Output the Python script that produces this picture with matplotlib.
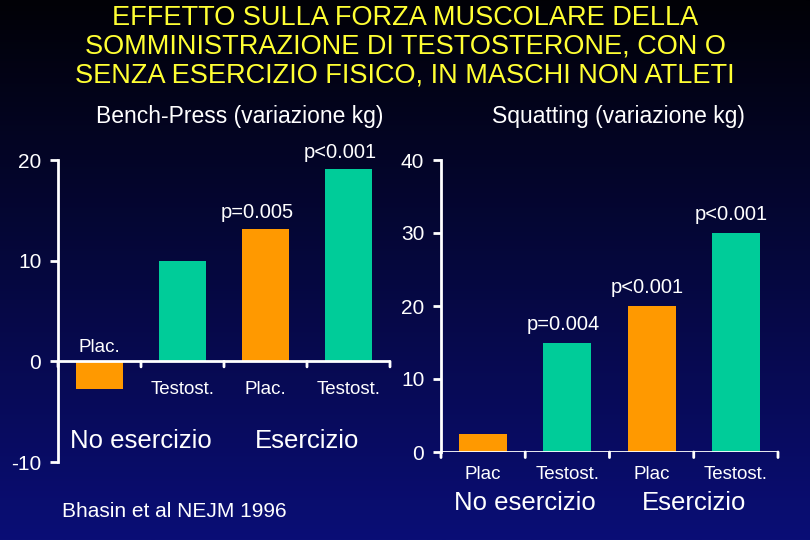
# -*- coding: utf-8 -*-
import numpy as np
import matplotlib
matplotlib.use('Agg')
import matplotlib.pyplot as plt

# data
categories = ['Plac.', 'Testost.', 'Plac.', 'Testost.']
categories_sq = ['Plac', 'Testost.', 'Plac', 'Testost.']
groups = ['No esercizio', 'Esercizio']
bench = [-2.7, 10.0, 13.1, 19.1]
squat = [2.5, 15.0, 20.0, 30.0]
bench_p = [None, None, 'p=0.005', 'p<0.001']
squat_p = [None, 'p=0.004', 'p<0.001', 'p<0.001']
colors = ['#FF9900', '#00CC99', '#FF9900', '#00CC99']

title = ('EFFETTO SULLA FORZA MUSCOLARE DELLA\n'
         'SOMMINISTRAZIONE DI TESTOSTERONE, CON O\n'
         'SENZA ESERCIZIO FISICO, IN MASCHI NON ATLETI')

plt.rcParams['font.family'] = ['Liberation Sans', 'DejaVu Sans']
plt.rcParams['axes.unicode_minus'] = False

fig = plt.figure(figsize=(8.1, 5.4), dpi=100)

# background gradient
bg = fig.add_axes([0, 0, 1, 1], zorder=-10)
grad = np.linspace(0, 1, 256).reshape(-1, 1)
top = np.array([1, 1, 6]) / 255.0
bot = np.array([10, 14, 118]) / 255.0
img = top + (bot - top) * grad[:, :, None]
bg.imshow(img, aspect='auto', extent=[0, 1, 0, 1])
bg.axis('off')

fig.text(0.5, 0.99, title, ha='center', va='top', color='#FFFF33',
         fontsize=19.5, linespacing=1.12)
fig.text(0.296, 0.785, 'Bench-Press (variazione kg)', ha='center', va='center',
         color='white', fontsize=16.5)
fig.text(0.763, 0.785, 'Squatting (variazione kg)', ha='center', va='center',
         color='white', fontsize=16.5)
fig.text(0.077, 0.052, 'Bhasin et al NEJM 1996', ha='left', va='center',
         color='white', fontsize=15)


def style(ax, ylim, yticks):
    ax.set_facecolor('none')
    ax.set_xlim(0, 4)
    ax.set_ylim(*ylim)
    ax.set_yticks(yticks)
    ax.set_xticks([])
    for s in ['top', 'right', 'bottom']:
        ax.spines[s].set_visible(False)
    ax.spines['left'].set_color('white')
    ax.spines['left'].set_linewidth(2)
    ax.tick_params(axis='y', colors='white', labelsize=15, length=6, width=2,
                   direction='out', pad=6)
    # x axis line at zero with category boundary ticks
    ax.axhline(0, color='white', lw=2, zorder=3)
    for b in range(5):
        ax.annotate('', xy=(b, 0), xytext=(0, -4), textcoords='offset points',
                    arrowprops=dict(arrowstyle='-', color='white', lw=2,
                                    shrinkA=0, shrinkB=0))


x = np.arange(4) + 0.5

# Bench press
ax1 = fig.add_axes([58 / 810, 1 - 462 / 540, 332 / 810, 302 / 540])
style(ax1, (-10, 20), [-10, 0, 10, 20])
ax1.bar(x, bench, width=0.57, color=colors, zorder=2)
for xi, v, lab, p in zip(x, bench, categories, bench_p):
    dy = 10 if v < 0 else -20
    ax1.annotate(lab, (xi, 0), xytext=(0, dy), textcoords='offset points',
                 ha='center', va='center', color='white', fontsize=13.5)
    if p:
        ax1.annotate(p, (xi, v), xytext=(-6, 12), textcoords='offset points',
                     ha='center', va='center', color='white', fontsize=14.5)
for gi, g in enumerate(groups):
    ax1.annotate(g, (2 * gi + 1, 0), xytext=(0, -57), textcoords='offset points',
                 ha='center', va='center', color='white', fontsize=18.5)

# Squatting
ax2 = fig.add_axes([441 / 810, 1 - 452 / 540, 337 / 810, 292 / 540])
style(ax2, (0, 40), [0, 10, 20, 30, 40])
ax2.bar(x, squat, width=0.57, color=colors, zorder=2)
for xi, v, lab, p in zip(x, squat, categories_sq, squat_p):
    ax2.annotate(lab, (xi, 0), xytext=(0, -16), textcoords='offset points',
                 ha='center', va='center', color='white', fontsize=13.5)
    if p:
        ax2.annotate(p, (xi, v), xytext=(-3, 13), textcoords='offset points',
                     ha='center', va='center', color='white', fontsize=14.5)
for gi, g in enumerate(groups):
    ax2.annotate(g, (2 * gi + 1, 0), xytext=(0, -37), textcoords='offset points',
                 ha='center', va='center', color='white', fontsize=18.5)

fig.savefig('out.png', dpi=100)
